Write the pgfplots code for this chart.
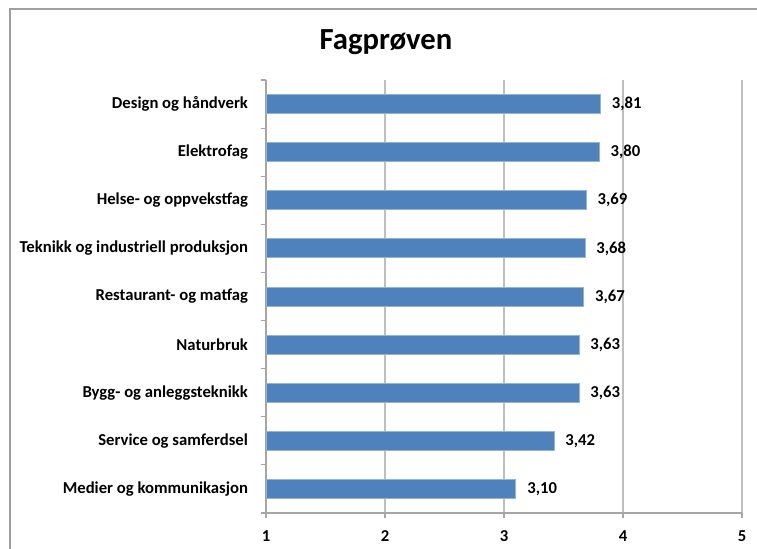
\documentclass[border=0pt]{standalone}
\usepackage{pgfplots}
\pgfplotsset{compat=1.18}
\usepackage{fontspec}
\setmainfont{Carlito}
\definecolor{barblue}{HTML}{4F81BD}
\definecolor{gridgray}{HTML}{BFBFBF}
\definecolor{axgray}{HTML}{A6A6A6}
\begin{document}
\begin{tikzpicture}
\path[use as bounding box] (0,0) rectangle (567.75pt,411.75pt);
\draw[gray!75, line width=1.6pt] (7.5pt,0) -- (7.5pt,405pt) -- (567.75pt,405pt);
\node[font=\bfseries\fontsize{23}{26}\selectfont] at (289.5pt,380pt) {Fagprøven};
\begin{axis}[
  at={(199.5pt,27pt)}, anchor=south west,
  scale only axis, width=357pt, height=324.75pt,
  xbar, bar width=14.25pt,
  xmin=1, xmax=5, ymin=-0.5, ymax=8.5,
  y dir=reverse,
  axis x line*=bottom, axis y line*=left,
  axis line style={axgray, line width=0.8pt},
  xtick={1,2,3,4,5},
  xmajorgrids, grid style={gridgray, line width=0.8pt},
  ytick={0,...,8},
  yticklabels={Design og håndverk,Elektrofag,Helse- og oppvekstfag,Teknikk og industriell produksjon,Restaurant- og matfag,Naturbruk,Bygg- og anleggsteknikk,Service og samferdsel,Medier og kommunikasjon},
  minor ytick={-0.5,0.5,...,8.5},
  major y tick style={draw=none},
  minor y tick style={axgray, line width=0.8pt},
  minor tick length=4pt,
  x tick style={axgray, line width=0.8pt},
  major tick length=4pt,
  tick align=outside,
  /pgf/number format/assume math mode=true,
  ticklabel style={font=\bfseries\fontsize{12.5}{14}\selectfont, text=black},
  yticklabel style={xshift=-6pt},
  xticklabel style={yshift=-6pt},
  nodes near coords,
  nodes near coords style={font=\bfseries\fontsize{12.5}{14}\selectfont, anchor=west, xshift=5pt, text=black,
    /pgf/number format/.cd, fixed, fixed zerofill, precision=2, use comma, assume math mode=true},
]
\addplot[fill=barblue, draw=barblue!60!white, line width=0.6pt] coordinates {
(3.81,0) (3.80,1) (3.69,2) (3.68,3) (3.67,4) (3.63,5) (3.63,6) (3.42,7) (3.10,8)};
\end{axis}
\end{tikzpicture}
\end{document}
